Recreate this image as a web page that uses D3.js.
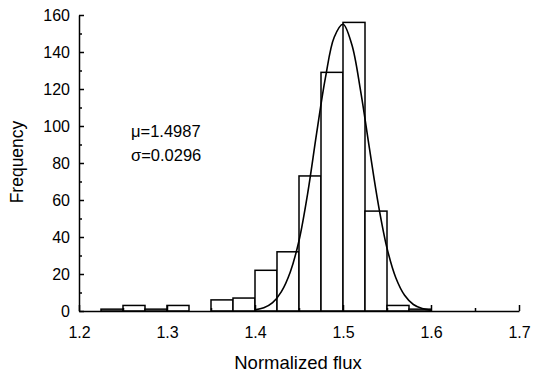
<!DOCTYPE html>
<html lang="en">
<head>
<meta charset="UTF-8">
<title>Normalized flux histogram</title>
<script src="https://d3js.org/d3.v7.min.js"></script>
<style>
    body { margin: 0; background: #fff; }
    svg { display: block; font-family: "Liberation Sans", Arial, sans-serif; }
    .axis path, .axis line { stroke: #000; stroke-width: 1.5; }
    .axis text { font-size: 16px; fill: #000; font-family: "Liberation Sans", Arial, sans-serif; }
    .bar { fill: #fff; stroke: #000; stroke-width: 1.5; }
    .fit { fill: none; stroke: #000; stroke-width: 1.6; }
</style>
</head>
<body>
<svg width="534" height="380"></svg>
<script>
    // histogram bins (left edge, width 0.025) and counts
    const binStart = [1.200, 1.225, 1.250, 1.275, 1.300, 1.325, 1.350, 1.375, 1.400, 1.425,
                      1.450, 1.475, 1.500, 1.525, 1.550, 1.575];
    const counts   = [0, 1, 3, 1, 3, 0, 6, 7, 22, 32, 73, 129, 156, 54, 3, 1];
    const binWidth = 0.025;

    // fitted normal curve
    const fitX = [1.40, 1.41, 1.42, 1.43, 1.44, 1.45, 1.46, 1.47, 1.48, 1.49, 1.50,
                  1.51, 1.52, 1.53, 1.54, 1.55, 1.56, 1.57, 1.58, 1.59, 1.60];
    const fitY = [0.6, 1.7, 4.5, 10.5, 21, 38, 64, 96, 126, 148, 155,
                  144, 119, 88, 58, 34, 18, 8.5, 3.5, 1.3, 0.4];

    const xTicks = [1.2, 1.3, 1.4, 1.5, 1.6, 1.7];
    const xMinor = [1.25, 1.35, 1.45, 1.55, 1.65];
    const yTicks = [0, 20, 40, 60, 80, 100, 120, 140, 160];
    const yMinor = [10, 30, 50, 70, 90, 110, 130, 150];

    const svg = d3.select("svg");
    const x = d3.scaleLinear().domain([1.2, 1.7]).range([79, 519]);
    const y = d3.scaleLinear().domain([0, 160]).range([311, 15]);

    // bars
    svg.selectAll(".bar")
        .data(binStart.map((b, i) => ({ b, c: counts[i] })).filter(d => d.c > 0))
        .enter().append("rect")
        .attr("class", "bar")
        .attr("x", d => x(d.b))
        .attr("width", d => x(d.b + binWidth) - x(d.b))
        .attr("y", d => y(d.c))
        .attr("height", d => y(0) - y(d.c));

    // fit curve
    const line = d3.line()
        .x((d, i) => x(fitX[i]))
        .y(d => y(d))
        .curve(d3.curveCatmullRom);
    svg.append("path").attr("class", "fit").attr("d", line(fitY));

    // axes (ticks pointing inward)
    svg.append("g").attr("class", "axis")
        .attr("transform", `translate(0,${y(0)})`)
        .call(d3.axisBottom(x).tickValues(xTicks).tickFormat(d3.format(".1f"))
            .tickSizeInner(-6).tickSizeOuter(0).tickPadding(16));
    svg.append("g").attr("class", "axis")
        .attr("transform", `translate(0,${y(0)})`)
        .call(d3.axisBottom(x).tickValues(xMinor).tickFormat("")
            .tickSizeInner(-3).tickSizeOuter(0))
        .select(".domain").remove();

    svg.append("g").attr("class", "axis")
        .attr("transform", `translate(${x(1.2)},0)`)
        .call(d3.axisLeft(y).tickValues(yTicks)
            .tickSizeInner(-5).tickSizeOuter(0).tickPadding(9));
    svg.append("g").attr("class", "axis")
        .attr("transform", `translate(${x(1.2)},0)`)
        .call(d3.axisLeft(y).tickValues(yMinor).tickFormat("")
            .tickSizeInner(-3).tickSizeOuter(0))
        .select(".domain").remove();

    // labels
    svg.append("text")
        .attr("x", 298).attr("y", 369)
        .attr("text-anchor", "middle")
        .style("font-size", "18.5px")
        .text("Normalized flux");
    svg.append("text")
        .attr("transform", "translate(23,162) rotate(-90)")
        .attr("text-anchor", "middle")
        .style("font-size", "17.5px")
        .text("Frequency");

    svg.append("text").attr("x", 131).attr("y", 137)
        .style("font-size", "16.5px").text("\u03bc=1.4987");
    svg.append("text").attr("x", 131).attr("y", 161)
        .style("font-size", "16.5px").text("\u03c3=0.0296");
</script>
</body>
</html>
